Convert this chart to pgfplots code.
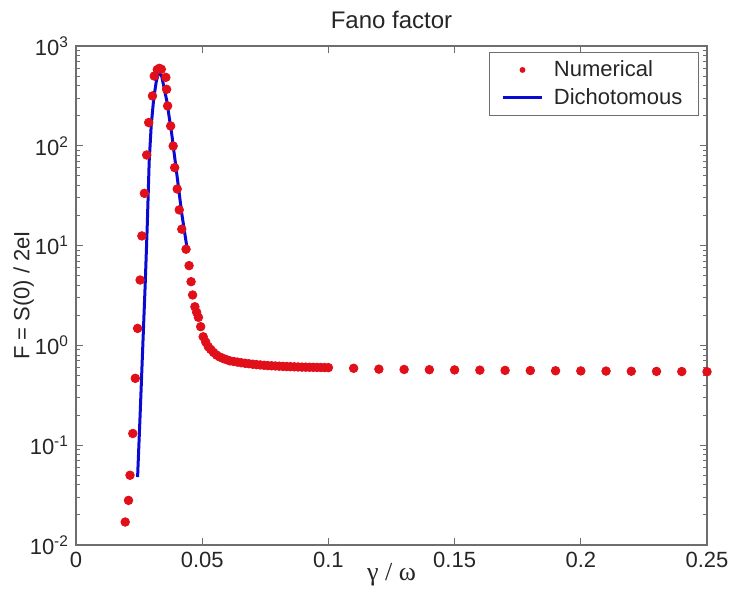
\documentclass[border=0pt]{standalone}
\usepackage{pgfplots}
\pgfplotsset{compat=1.18}
\usepackage{fontspec}
\setmainfont{Liberation Sans}
\newfontfamily\serifgreek{Liberation Serif}
\definecolor{numred}{RGB}{225,15,25}
\definecolor{dichblue}{RGB}{10,10,210}
\definecolor{axgray}{RGB}{110,110,110}
\begin{document}
\begin{tikzpicture}
\begin{axis}[
  at={(0,0)}, anchor=south west,
  scale only axis,
  width=315.5pt, height=249.5pt,
  xmin=0, xmax=0.25,
  ymin=0.01, ymax=1000,
  ymode=log,
  clip=false,
  xtick={0,0.05,0.1,0.15,0.2,0.25},
  xticklabels={0,0.05,0.1,0.15,0.2,0.25},
  ytick={0.01,0.1,1,10,100,1000},
  yticklabels={10\textsuperscript{-2},10\textsuperscript{-1},10\textsuperscript{0},10\textsuperscript{1},10\textsuperscript{2},10\textsuperscript{3}},
  tick label style={font=\fontsize{11}{13}\selectfont, text=black!85},
  major tick length=3.5pt,
  minor tick length=2pt,
  every tick/.style={axgray, line width=0.5pt},
  axis line style={axgray, line width=0.6pt},
  title={Fano factor},
  title style={font=\fontsize{12}{14}\selectfont, text=black!85, at={(axis description cs:0.5,1)}, anchor=center, yshift=7pt},
  xlabel={{\serifgreek γ / ω}},
  xlabel style={font=\fontsize{13}{15}\selectfont, text=black!85, at={(axis description cs:0.5,0)}, anchor=center, yshift=-15pt},
  ylabel={F = S(0) / 2eI},
  ylabel style={font=\fontsize{11}{13}\selectfont, text=black!85, at={(axis description cs:-0.083,0.5)}, anchor=center, rotate=0},
  legend style={at={(0.987,0.988)}, anchor=north east, draw=axgray, line width=0.5pt,
    font=\fontsize{11}{13}\selectfont, text=black!85, inner xsep=6pt, inner ysep=2pt, row sep=0.5pt, column sep=3pt},
  legend cell align=left,
]
\addplot[only marks, mark=*, mark size=2.15pt, color=numred,
  legend image code/.code={\fill[numred] (0.35cm,0cm) circle (1.2pt);}]
coordinates {
(0.0195,0.017) (0.0208,0.028) (0.0214,0.050) (0.0225,0.131) (0.0235,0.468)
(0.0244,1.48) (0.0254,4.52) (0.0261,12.5) (0.0271,33.4) (0.0280,80.9)
(0.0288,171) (0.0303,316) (0.0310,500) (0.0322,580) (0.0330,597) (0.0338,585)
(0.0356,485) (0.0359,368) (0.0363,251) (0.0375,158) (0.0385,99.5) (0.0391,60.4)
(0.0401,36.9) (0.0409,22.8) (0.0419,14.6) (0.0436,9.2)
(0.0448,6.3) (0.0456,4.35) (0.0462,3.2) (0.0471,2.44) (0.0478,2.15)
(0.0485,1.91) (0.0494,1.54) (0.0504,1.22) (0.0514,1.08) (0.0524,0.97)
(0.0534,0.91) (0.0545,0.85) (0.0557,0.80) (0.0570,0.765) (0.0583,0.74)
(0.0596,0.72) (0.0610,0.70) (0.0625,0.69) (0.0640,0.68) (0.0655,0.67)
(0.0670,0.662) (0.0685,0.655) (0.0700,0.648) (0.0715,0.642) (0.0730,0.637)
(0.0745,0.632) (0.0760,0.628) (0.0775,0.625) (0.0790,0.622) (0.0805,0.619)
(0.0820,0.616) (0.0835,0.614) (0.0850,0.612) (0.0865,0.610) (0.0880,0.608)
(0.0895,0.606) (0.0910,0.605) (0.0925,0.604) (0.0940,0.603) (0.0955,0.602)
(0.0970,0.601) (0.0985,0.600) (0.1000,0.599)
(0.11,0.590) (0.12,0.578) (0.13,0.574) (0.14,0.571) (0.15,0.568)
(0.16,0.565) (0.17,0.562) (0.18,0.560) (0.19,0.557) (0.20,0.555)
(0.21,0.553) (0.22,0.551) (0.23,0.549) (0.24,0.547) (0.25,0.545)
};
\addlegendentry{Numerical}
\addplot[color=dichblue, line width=1.5pt, no marks,
  legend image code/.code={\draw[dichblue, line width=1.5pt] (0cm,0cm) -- (0.7cm,0cm);}]
coordinates {
(0.0244,0.048) (0.0254,0.20) (0.0264,0.9) (0.0274,4.0) (0.0282,15)
(0.0290,70) (0.0298,160) (0.0308,300) (0.0318,440) (0.0326,530) (0.0332,560)
(0.0340,490) (0.0359,288) (0.0379,133) (0.0399,53) (0.0419,21) (0.0440,9.4)
};
\addlegendentry{Dichotomous}
\end{axis}
\pgfresetboundingbox
\path[use as bounding box] (-38pt,-27pt) rectangle (327.5pt,272.5pt);
\end{tikzpicture}
\end{document}
